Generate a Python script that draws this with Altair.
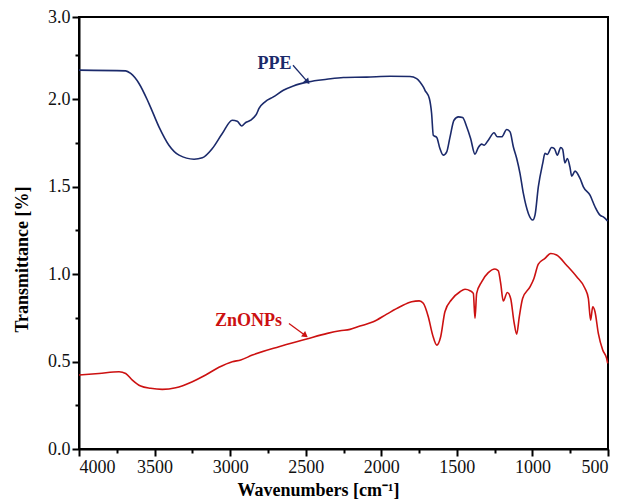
import altair as alt
import pandas as pd

# ---- PPE spectrum (wavenumber cm-1, transmittance) ----
ppe_wn = [4000, 3691, 3658, 3603, 3537, 3471, 3405, 3338, 3239, 3184, 3118, 3052, 2986, 2953,
          2924, 2897, 2864, 2824, 2809, 2769, 2714, 2648, 2582, 2483, 2361, 2251, 2097, 1942,
          1810, 1766, 1744, 1722, 1711, 1682, 1667, 1656, 1633, 1612, 1590, 1567, 1545, 1519,
          1490, 1462, 1435, 1409, 1380, 1358, 1336, 1320, 1292, 1254, 1232, 1203, 1170, 1148,
          1126, 1104, 1082, 1060, 1027, 998, 983, 961, 932, 917, 902, 873, 855, 835, 813, 800,
          785, 769, 752, 740, 718, 685, 663, 619, 586, 553, 531, 502]
ppe_t = [2.166, 2.162, 2.147, 2.090, 1.975, 1.842, 1.737, 1.680, 1.657, 1.665, 1.718, 1.804,
         1.880, 1.874, 1.847, 1.867, 1.880, 1.918, 1.947, 1.985, 2.013, 2.051, 2.076, 2.099,
         2.114, 2.124, 2.126, 2.131, 2.130, 2.118, 2.099, 2.070, 2.051, 2.004, 1.918, 1.794,
         1.781, 1.718, 1.680, 1.699, 1.785, 1.880, 1.899, 1.895, 1.842, 1.775, 1.686, 1.724,
         1.743, 1.737, 1.766, 1.808, 1.785, 1.785, 1.827, 1.813, 1.727, 1.661, 1.575, 1.461,
         1.347, 1.309, 1.337, 1.499, 1.633, 1.690, 1.684, 1.724, 1.718, 1.680, 1.724, 1.713,
         1.636, 1.661, 1.613, 1.560, 1.589, 1.547, 1.499, 1.451, 1.385, 1.337, 1.327, 1.303]

# ---- ZnONPs spectrum ----
zn_wn = [4000, 3868, 3735, 3691, 3647, 3592, 3526, 3449, 3360, 3250, 3162, 3074, 2986, 2930,
         2853, 2677, 2500, 2357, 2273, 2207, 2141, 2053, 1964, 1876, 1799, 1749, 1722, 1689,
         1660, 1633, 1607, 1579, 1534, 1479, 1446, 1413, 1391, 1380, 1369, 1336, 1292, 1248,
         1226, 1210, 1193, 1166, 1144, 1122, 1104, 1087, 1065, 1016, 990, 961, 917, 879, 840,
         774, 707, 652, 630, 615, 601, 586, 564, 535, 509, 502]
zn_t = [0.423, 0.432, 0.442, 0.432, 0.394, 0.360, 0.347, 0.341, 0.350, 0.385, 0.423, 0.467,
        0.499, 0.509, 0.537, 0.585, 0.627, 0.661, 0.676, 0.684, 0.703, 0.727, 0.771, 0.813,
        0.842, 0.847, 0.833, 0.756, 0.651, 0.594, 0.642, 0.785, 0.855, 0.899, 0.913, 0.905,
        0.890, 0.747, 0.890, 0.956, 1.008, 1.029, 1.019, 0.947, 0.846, 0.895, 0.861, 0.727,
        0.657, 0.756, 0.861, 0.927, 0.975, 1.057, 1.090, 1.118, 1.109, 1.051, 0.985, 0.918,
        0.861, 0.737, 0.813, 0.785, 0.661, 0.566, 0.518, 0.490]

series_names = ["PPE", "ZnONPs"]
series_colors = ["#1b2a6b", "#cc1111"]

# axis ticks
x_major = [500, 1000, 1500, 2000, 2500, 3000, 3500, 4000]
x_minor = [750, 1250, 1750, 2250, 2750, 3250, 3750]
y_major = [0.0, 0.5, 1.0, 1.5, 2.0, 2.47]
y_minor = [0.25, 0.75, 1.25, 1.75, 2.25]

# annotations
label_text = ["PPE", "ZnONPs"]
label_wn = [2707, 2879]
label_t = [2.203, 0.729]
arrow_wn_start = [2584, 2611]
arrow_t_start = [2.194, 0.718]
arrow_wn_end = [2492, 2507]
arrow_t_end = [2.103, 0.652]
arrow_angle = [139, 127]

FONT = "Liberation Serif"

lines = pd.concat([
    pd.DataFrame({"wn": ppe_wn, "t": ppe_t, "series": "PPE"}),
    pd.DataFrame({"wn": zn_wn, "t": zn_t, "series": "ZnONPs"}),
])
ann = pd.DataFrame({
    "text": label_text, "wn": label_wn, "t": label_t,
    "wn0": arrow_wn_start, "t0": arrow_t_start, "wn1": arrow_wn_end, "t1": arrow_t_end,
    "ang": arrow_angle, "color": series_colors,
})

xs = alt.Scale(domain=[500, 4000], reverse=True, nice=False, zero=False)
ys = alt.Scale(domain=[0, 2.47], nice=False, zero=False)

major_x_axis = alt.Axis(values=x_major, format="d", title="Wavenumbers [cm⁻¹]",
                        grid=False, tickSize=7, tickWidth=2, labelPadding=2,
                        titlePadding=5, titleX=239, titleAlign="center")
major_y_axis = alt.Axis(values=y_major, title="Transmittance [%]", grid=False,
                        tickSize=7, tickWidth=2, labelPadding=2, titlePadding=16,
                        titleY=242, titleAlign="center",
                        labelExpr="datum.value > 2.4 ? '3.0' : format(datum.value, '.1f')")

main = alt.Chart(lines).mark_line(strokeWidth=1.6, interpolate="monotone").encode(
    x=alt.X("wn:Q", scale=xs, axis=major_x_axis),
    y=alt.Y("t:Q", scale=ys, axis=major_y_axis),
    color=alt.Color("series:N", scale=alt.Scale(domain=series_names, range=series_colors),
                    legend=None),
    order=alt.Order("wn:Q"),
)

minor = alt.Chart(lines).mark_line(opacity=0).encode(
    x=alt.X("wn:Q", scale=xs, axis=alt.Axis(values=x_minor, labels=False, tickSize=4,
                                             tickWidth=2, domain=False, grid=False,
                                             title=None, orient="bottom")),
    y=alt.Y("t:Q", scale=ys, axis=alt.Axis(values=y_minor, labels=False, tickSize=4,
                                            tickWidth=2, domain=False, grid=False,
                                            title=None, orient="left")),
    detail="series:N",
)

texts = alt.Chart(ann).mark_text(font=FONT, fontSize=18, fontWeight="bold",
                                 align="center", baseline="middle").encode(
    x=alt.X("wn:Q", scale=xs, axis=None),
    y=alt.Y("t:Q", scale=ys, axis=None),
    text="text:N",
    color=alt.Color("color:N", scale=None),
)

arrows = alt.Chart(ann).mark_rule(strokeWidth=1.3).encode(
    x=alt.X("wn0:Q", scale=xs, axis=None),
    y=alt.Y("t0:Q", scale=ys, axis=None),
    x2="wn1:Q",
    y2="t1:Q",
    color=alt.Color("color:N", scale=None),
)

heads = alt.Chart(ann).mark_point(shape="triangle", filled=True, size=45, opacity=1).encode(
    x=alt.X("wn1:Q", scale=xs, axis=None),
    y=alt.Y("t1:Q", scale=ys, axis=None),
    angle=alt.Angle("ang:Q", scale=None),
    color=alt.Color("color:N", scale=None),
)

chart = alt.layer(main, minor, arrows, heads, texts).resolve_axis(
    x="independent", y="independent"
).properties(
    width=529, height=432,
    autosize=alt.AutoSizeParams(type="none"),
    padding={"left": 79, "top": 17, "right": 16, "bottom": 55},
    background="white",
).configure_view(
    stroke="black", strokeWidth=2,
).configure_axis(
    domainColor="black", domainWidth=2, tickColor="black",
    labelFont=FONT, labelFontSize=18, labelColor="#111",
    titleFont=FONT, titleFontSize=18, titleFontWeight="bold", titleColor="black",
)

chart.save("out.html", embed_options={"renderer": "svg", "actions": False})
